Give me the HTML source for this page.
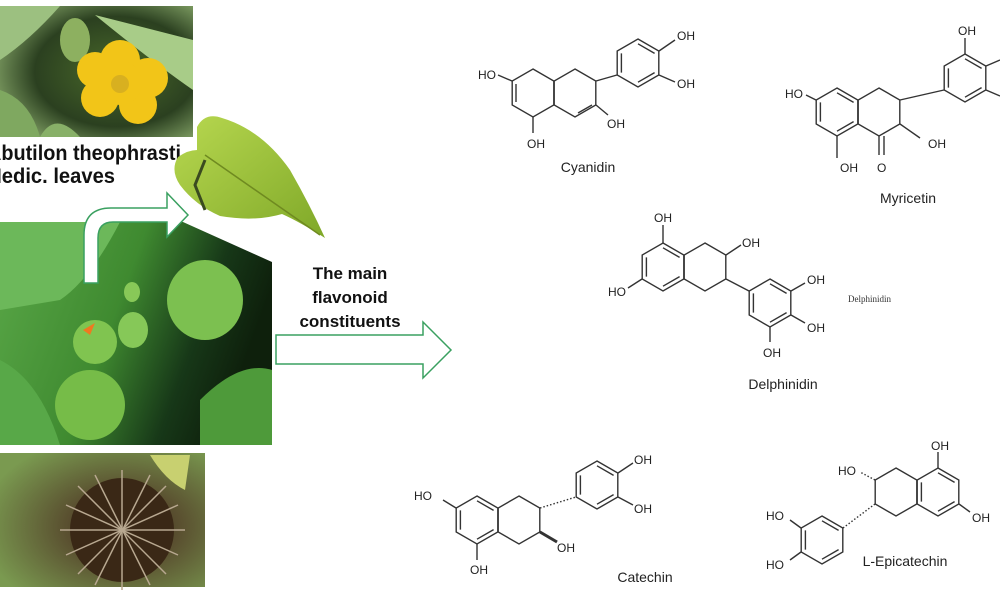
<!DOCTYPE html>
<html><head><meta charset="utf-8"><style>
html,body{margin:0;padding:0;background:#fff;}
svg{display:block;}
.t{font-family:"Liberation Sans",Arial,sans-serif;font-size:12px;fill:#222;}
.n{font-family:"Liberation Sans",Arial,sans-serif;font-size:14px;fill:#222;}
.b{stroke:#333;stroke-width:1.4;fill:none;}
</style></head><body>
<svg width="1000" height="600" viewBox="0 0 1000 600" xmlns="http://www.w3.org/2000/svg">
<defs>
<radialGradient id="g1" cx="0.6" cy="0.5" r="0.7"><stop offset="0" stop-color="#4a6a2a"/><stop offset="0.6" stop-color="#2b4020"/><stop offset="1" stop-color="#8fb070"/></radialGradient>
<linearGradient id="g2" x1="0" y1="0" x2="1" y2="0.3"><stop offset="0" stop-color="#5aa848"/><stop offset="0.5" stop-color="#3f8a30"/><stop offset="0.8" stop-color="#173818"/><stop offset="1" stop-color="#0e200c"/></linearGradient>
<radialGradient id="g3" cx="0.6" cy="0.55" r="0.7"><stop offset="0" stop-color="#3a2a1a"/><stop offset="0.4" stop-color="#5a5030"/><stop offset="1" stop-color="#7a9a50"/></radialGradient>
<linearGradient id="gl" x1="0" y1="0" x2="1" y2="1"><stop offset="0" stop-color="#b8d850"/><stop offset="1" stop-color="#7fa828"/></linearGradient>
<g id="hx"><polygon points="0,-24 20.8,-12 20.8,12 0,24 -20.8,12 -20.8,-12"/></g>
<g id="db"><path d="M0,-19.2 L16.6,-9.6 M16.6,9.6 L0,19.2 M-16.6,9.6 L-16.6,-9.6"/></g>
</defs>

<!-- top photo -->
<rect x="0" y="6" width="193" height="131" fill="url(#g1)"/>
<path d="M0,6 L60,6 Q30,40 0,60Z" fill="#9cc080"/>
<path d="M95,15 L193,40 L193,90 Q150,60 95,15Z" fill="#a8cc88"/>
<path d="M0,90 Q30,100 40,137 L0,137Z" fill="#7fa860"/>
<path d="M40,137 Q55,110 80,137Z" fill="#88b068"/>
<ellipse cx="75" cy="40" rx="15" ry="22" fill="#8db060"/>
<g fill="#f2c518">
<circle cx="120" cy="60" r="20"/><circle cx="148" cy="78" r="20"/><circle cx="138" cy="105" r="19"/><circle cx="100" cy="98" r="19"/><circle cx="95" cy="70" r="18"/><circle cx="120" cy="83" r="22"/>
</g>
<circle cx="120" cy="84" r="9" fill="#d8b020"/>

<!-- labels -->
<text x="-13" y="160" textLength="194" lengthAdjust="spacingAndGlyphs" style="font-family:'Liberation Sans',Arial,sans-serif;font-weight:bold;font-size:21px;fill:#111">Abutilon theophrasti</text>
<text x="-15" y="183" textLength="130" lengthAdjust="spacingAndGlyphs" style="font-family:'Liberation Sans',Arial,sans-serif;font-weight:bold;font-size:21px;fill:#111">Medic. leaves</text>

<!-- middle photo -->
<polygon points="0,222 183,222 272,262 272,445 0,445" fill="url(#g2)"/>
<path d="M0,222 L120,222 Q90,280 60,300 L0,310Z" fill="#6cb85a"/>
<path d="M0,360 Q40,380 60,445 L0,445Z" fill="#58a848"/>
<path d="M200,400 Q240,360 272,370 L272,445 L200,445Z" fill="#4e9a3a"/>
<ellipse cx="205" cy="300" rx="38" ry="40" fill="#7cc050"/>
<ellipse cx="95" cy="342" rx="22" ry="22" fill="#80c450"/>
<ellipse cx="133" cy="330" rx="15" ry="18" fill="#86c858"/>
<ellipse cx="90" cy="405" rx="35" ry="35" fill="#76bc48"/>
<ellipse cx="132" cy="292" rx="8" ry="10" fill="#88c858"/>
<path d="M83,330 L95,323 L90,335Z" fill="#f07820"/>

<!-- bottom photo -->
<rect x="0" y="453" width="205" height="134" fill="url(#g3)"/>
<circle cx="122" cy="530" r="52" fill="#3a2816"/>
<g stroke="#b8a890" stroke-width="1.5">
<line x1="60" y1="530" x2="185" y2="530"/><line x1="122" y1="470" x2="122" y2="590"/><line x1="78" y1="486" x2="166" y2="574"/><line x1="78" y1="574" x2="166" y2="486"/><line x1="95" y1="475" x2="150" y2="585"/><line x1="150" y1="475" x2="95" y2="585"/><line x1="66" y1="505" x2="178" y2="555"/><line x1="66" y1="555" x2="178" y2="505"/>
</g>
<path d="M150,455 L190,455 L185,490 Q165,480 150,455Z" fill="#c8d070"/>

<!-- leaf -->
<path d="M197,127 Q205,112 222,118 Q262,130 290,170 Q310,205 325,238 Q300,222 282,214 Q255,222 220,216 Q195,205 180,185 Q170,170 178,157 Q188,150 197,150Z" fill="url(#gl)"/>
<path d="M205,155 L320,235" stroke="#6f8a20" stroke-width="1.5"/>
<path d="M205,160 L195,185 L205,210" stroke="#3a4a20" stroke-width="3" fill="none"/>

<!-- curved arrow -->
<path d="M84,283 L84,235 Q84,208 111,208 L167,208 L167,193 L188,215 L167,237 L167,222 L113,222 Q98,222 98,238 L98,283Z" fill="#fff" stroke="#3aa060" stroke-width="1.5"/>

<!-- main text -->
<g style="font-family:'Liberation Sans',Arial,sans-serif;font-weight:bold;font-size:17px;fill:#111" text-anchor="middle">
<text x="350" y="279">The main</text>
<text x="350" y="303">flavonoid</text>
<text x="350" y="327">constituents</text>
</g>
<path d="M276,335 L423,335 L423,322 L451,350 L423,378 L423,364 L276,364Z" fill="#fff" stroke="#3aa060" stroke-width="1.5"/>

<!-- Cyanidin -->
<g class="b">
<use href="#hx" x="533" y="93"/><use href="#hx" x="575" y="93"/><use href="#hx" x="638" y="63"/><use href="#db" x="638" y="63"/>
<line x1="596" y1="81" x2="617" y2="75"/>
<line x1="512" y1="81" x2="498" y2="75"/>
<line x1="533" y1="117" x2="533" y2="133"/>
<line x1="596" y1="105" x2="608" y2="115"/>
<line x1="659" y1="51" x2="675" y2="40"/>
<line x1="659" y1="75" x2="675" y2="82"/>
<line x1="516" y1="84" x2="516" y2="102"/><line x1="578" y1="113" x2="592" y2="105"/>
</g>
<text class="t" x="478" y="79">HO</text><text class="t" x="677" y="40">OH</text><text class="t" x="677" y="88">OH</text>
<text class="t" x="607" y="128">OH</text><text class="t" x="527" y="148">OH</text>
<text class="n" x="588" y="172" text-anchor="middle">Cyanidin</text>

<!-- Myricetin -->
<g class="b">
<use href="#hx" x="837" y="112"/><use href="#hx" x="879" y="112"/><use href="#hx" x="965" y="78"/><use href="#db" x="965" y="78"/><use href="#db" x="837" y="112"/>
<line x1="900" y1="100" x2="944" y2="90"/>
<line x1="816" y1="100" x2="806" y2="95"/>
<line x1="837" y1="136" x2="837" y2="158"/>
<line x1="879" y1="136" x2="879" y2="155"/><line x1="884" y1="136" x2="884" y2="155"/>
<line x1="900" y1="124" x2="920" y2="138"/>
<line x1="965" y1="54" x2="965" y2="38"/>
<line x1="986" y1="66" x2="1000" y2="60"/><line x1="986" y1="90" x2="1000" y2="96"/>
</g>
<text class="t" x="785" y="98">HO</text><text class="t" x="958" y="35">OH</text><text class="t" x="928" y="148">OH</text>
<text class="t" x="840" y="172">OH</text><text class="t" x="877" y="172">O</text>
<text class="n" x="908" y="203" text-anchor="middle">Myricetin</text>

<!-- Delphinidin -->
<g class="b">
<use href="#hx" x="663" y="267"/><use href="#hx" x="705" y="267"/><use href="#hx" x="770" y="303"/><use href="#db" x="770" y="303"/><use href="#db" x="663" y="267"/>
<line x1="726" y1="279" x2="749" y2="291"/>
<line x1="663" y1="243" x2="663" y2="225"/>
<line x1="726" y1="255" x2="741" y2="245"/>
<line x1="642" y1="279" x2="628" y2="288"/>
<line x1="791" y1="291" x2="805" y2="283"/><line x1="791" y1="315" x2="805" y2="323"/>
<line x1="770" y1="327" x2="770" y2="342"/>
</g>
<text class="t" x="654" y="222">OH</text><text class="t" x="742" y="247">OH</text><text class="t" x="608" y="296">HO</text>
<text class="t" x="807" y="284">OH</text><text class="t" x="807" y="332">OH</text><text class="t" x="763" y="357">OH</text>
<text x="848" y="302" style="font-family:'Liberation Serif',serif;font-size:9px;fill:#333">Delphinidin</text>
<text class="n" x="783" y="389" text-anchor="middle">Delphinidin</text>

<!-- Catechin -->
<g class="b">
<use href="#hx" x="477" y="520"/><use href="#hx" x="519" y="520"/><use href="#hx" x="597" y="485"/><use href="#db" x="597" y="485"/><use href="#db" x="477" y="520"/>
<line x1="540" y1="508" x2="576" y2="497" stroke-dasharray="1.5,2"/>
<line x1="456" y1="508" x2="443" y2="500"/>
<line x1="477" y1="544" x2="477" y2="560"/>
<line x1="540" y1="532" x2="557" y2="542" stroke-width="3"/>
<line x1="618" y1="473" x2="633" y2="463"/><line x1="618" y1="497" x2="633" y2="505"/>
</g>
<text class="t" x="414" y="500">HO</text><text class="t" x="634" y="464">OH</text><text class="t" x="634" y="513">OH</text>
<text class="t" x="557" y="552">OH</text><text class="t" x="470" y="574">OH</text>
<text class="n" x="645" y="582" text-anchor="middle">Catechin</text>

<!-- L-Epicatechin -->
<g class="b">
<use href="#hx" x="938" y="492"/><use href="#hx" x="896" y="492"/><use href="#hx" x="822" y="540"/><use href="#db" x="822" y="540"/><use href="#db" x="938" y="492"/>
<line x1="875" y1="504" x2="843" y2="528" stroke-dasharray="1.5,2"/>
<line x1="938" y1="468" x2="938" y2="452"/>
<line x1="959" y1="504" x2="970" y2="512"/>
<line x1="875" y1="480" x2="860" y2="472" stroke-dasharray="1.5,2"/>
<line x1="801" y1="528" x2="790" y2="520"/><line x1="801" y1="552" x2="790" y2="560"/>
</g>
<text class="t" x="931" y="450">OH</text><text class="t" x="838" y="475">HO</text><text class="t" x="972" y="522">OH</text>
<text class="t" x="766" y="520">HO</text><text class="t" x="766" y="569">HO</text>
<text class="n" x="905" y="566" text-anchor="middle">L-Epicatechin</text>
</svg>
</body></html>
